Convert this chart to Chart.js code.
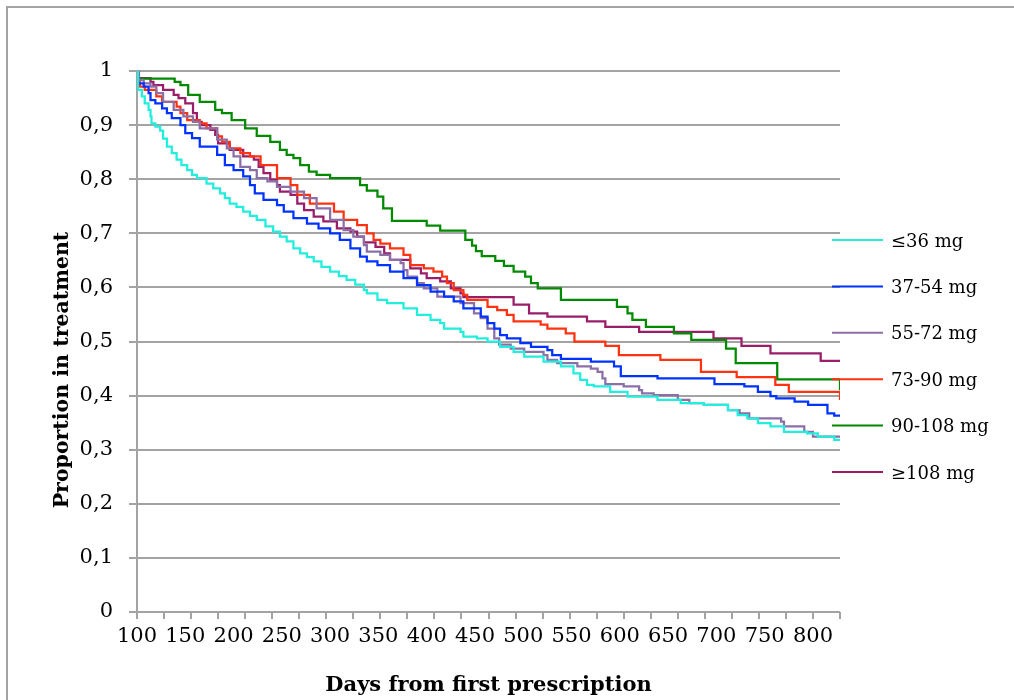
<!DOCTYPE html>
<html>
<head>
<meta charset="utf-8">
<script src="https://cdn.jsdelivr.net/npm/chart.js@4.4.1/dist/chart.umd.min.js"></script>
<style>
  html, body { margin: 0; padding: 0; background: #fff; overflow: hidden; }
  #wrap { position: relative; width: 1014px; height: 700px; }
  #frame { position: absolute; left: 6px; top: 6px; width: 1100px; height: 800px;
           border-left: 2px solid #a3a3a3; border-top: 2px solid #a3a3a3; }
  canvas { position: absolute; left: 0; top: 0; }
</style>
</head>
<body>
<div id="wrap"><div id="frame"></div><canvas id="chart" width="1014" height="700"></canvas></div>
<script>
/* Proportion in treatment by dose group (stepped survival-style curves) */

const groups = ["≤36 mg", "37-54 mg", "55-72 mg", "73-90 mg", "90-108 mg", "≥108 mg"];

// days / proportion pairs, value holds from that day on
const days36 = [100, 101, 105, 108, 112, 114, 115, 119, 124, 127, 131, 136, 141, 146, 152, 157, 162, 172, 179, 186,
  191, 196, 203, 210, 217, 224, 233, 241, 248, 255, 262, 269, 276, 283, 291, 300, 309, 317, 326, 335,
  338, 349, 359, 376, 390, 404, 414, 418, 435, 438, 452, 463, 476, 490, 501, 521, 539, 552, 559, 566,
  573, 590, 608, 639, 663, 687, 712, 722, 732, 743, 756, 770, 794, 805, 822, 828];
const prop36 = [1, 0.965, 0.953, 0.940, 0.928, 0.916, 0.903, 0.897, 0.890, 0.875, 0.860, 0.848, 0.836, 0.826, 0.817, 0.808, 0.802, 0.792, 0.783, 0.774,
  0.765, 0.755, 0.749, 0.740, 0.732, 0.725, 0.713, 0.703, 0.694, 0.685, 0.672, 0.663, 0.656, 0.648, 0.638, 0.629, 0.621, 0.614, 0.605, 0.595,
  0.589, 0.577, 0.571, 0.561, 0.549, 0.540, 0.534, 0.524, 0.518, 0.509, 0.506, 0.500, 0.490, 0.481, 0.472, 0.463, 0.454, 0.441, 0.429, 0.420,
  0.417, 0.407, 0.398, 0.392, 0.386, 0.383, 0.373, 0.364, 0.358, 0.349, 0.343, 0.333, 0.330, 0.324, 0.318, 0.318];

const days54 = [100, 101, 107, 112, 114, 119, 126, 131, 136, 145, 150, 157, 165, 183, 191, 200, 210, 217, 222, 231,
  245, 252, 262, 276, 288, 300, 310, 321, 331, 338, 349, 362, 376, 390, 404, 418, 428, 438, 456, 463,
  470, 476, 483, 497, 508, 525, 530, 539, 570, 594, 601, 639, 698, 729, 743, 756, 762, 781, 795, 815, 822, 828];
const prop54 = [1, 0.977, 0.971, 0.959, 0.946, 0.940, 0.931, 0.922, 0.913, 0.900, 0.885, 0.876, 0.860, 0.845, 0.826, 0.817, 0.805, 0.789, 0.774, 0.762,
  0.752, 0.740, 0.728, 0.718, 0.709, 0.700, 0.688, 0.672, 0.657, 0.648, 0.641, 0.629, 0.617, 0.604, 0.592, 0.583, 0.574, 0.561, 0.546, 0.534,
  0.524, 0.512, 0.506, 0.497, 0.490, 0.484, 0.475, 0.468, 0.463, 0.454, 0.436, 0.432, 0.421, 0.417, 0.407, 0.399, 0.395, 0.389, 0.383, 0.367, 0.363, 0.363];

const days72 = [100, 102, 107, 114, 120, 127, 138, 148, 158, 165, 183, 193, 200, 207, 217, 224, 235, 245, 259, 273,
  286, 300, 314, 324, 335, 338, 352, 362, 373, 376, 380, 390, 397, 411, 435, 449, 456, 463, 470, 475,
  487, 501, 521, 525, 535, 556, 570, 577, 582, 585, 604, 620, 623, 635, 660, 672, 687, 712, 724, 734,
  767, 770, 791, 800, 828];
const prop72 = [1, 0.983, 0.977, 0.971, 0.959, 0.943, 0.928, 0.916, 0.906, 0.894, 0.873, 0.857, 0.842, 0.823, 0.817, 0.802, 0.796, 0.786, 0.777, 0.765,
  0.746, 0.725, 0.706, 0.694, 0.678, 0.666, 0.660, 0.651, 0.645, 0.632, 0.620, 0.608, 0.598, 0.583, 0.571, 0.552, 0.543, 0.524, 0.506, 0.494,
  0.487, 0.481, 0.475, 0.466, 0.460, 0.454, 0.450, 0.444, 0.432, 0.421, 0.417, 0.410, 0.404, 0.401, 0.392, 0.386, 0.383, 0.373, 0.367, 0.358,
  0.352, 0.343, 0.333, 0.324, 0.324];

const days90 = [100, 101, 103, 108, 120, 126, 141, 145, 152, 165, 172, 183, 188, 196, 207, 217, 228, 245, 259, 266,
  279, 304, 314, 328, 338, 345, 352, 362, 376, 383, 397, 407, 416, 421, 428, 438, 442, 463, 473, 483,
  490, 518, 525, 544, 553, 585, 599, 642, 684, 721, 761, 775, 828];
const prop90 = [1, 0.980, 0.971, 0.965, 0.953, 0.943, 0.934, 0.922, 0.909, 0.903, 0.894, 0.879, 0.869, 0.857, 0.848, 0.842, 0.826, 0.802, 0.789, 0.771,
  0.755, 0.740, 0.725, 0.715, 0.700, 0.688, 0.681, 0.672, 0.660, 0.641, 0.635, 0.629, 0.620, 0.608, 0.595, 0.586, 0.577, 0.564, 0.558, 0.549,
  0.537, 0.531, 0.524, 0.515, 0.500, 0.492, 0.475, 0.466, 0.444, 0.434, 0.420, 0.407, 0.392];

const days108 = [100, 101, 139, 145, 153, 165, 181, 188, 198, 212, 224, 238, 248, 255, 262, 269, 278, 286, 300, 331,
  338, 349, 355, 364, 400, 414, 440, 447, 451, 457, 471, 480, 490, 502, 508, 515, 539, 597, 608, 613,
  627, 656, 674, 710, 720, 763, 828];
const prop108 = [1, 0.986, 0.980, 0.974, 0.956, 0.943, 0.928, 0.922, 0.909, 0.894, 0.880, 0.869, 0.854, 0.845, 0.839, 0.826, 0.814, 0.808, 0.802, 0.789,
  0.779, 0.768, 0.746, 0.723, 0.714, 0.705, 0.688, 0.677, 0.667, 0.658, 0.649, 0.640, 0.629, 0.620, 0.608, 0.598, 0.577, 0.564, 0.552, 0.540,
  0.527, 0.515, 0.503, 0.487, 0.460, 0.430, 0.410];

const daysOver = [100, 102, 114, 117, 127, 138, 143, 150, 158, 162, 167, 176, 181, 184, 196, 210, 221, 226, 231, 238,
  245, 248, 259, 266, 273, 283, 293, 307, 321, 328, 335, 347, 356, 362, 383, 394, 400, 414, 425, 435,
  438, 490, 506, 525, 566, 585, 620, 697, 726, 756, 808, 828];
const propOver = [1, 0.987, 0.980, 0.974, 0.965, 0.956, 0.950, 0.940, 0.922, 0.906, 0.900, 0.891, 0.882, 0.866, 0.854, 0.842, 0.836, 0.823, 0.811, 0.799,
  0.789, 0.777, 0.771, 0.755, 0.743, 0.731, 0.722, 0.709, 0.703, 0.694, 0.683, 0.675, 0.663, 0.651, 0.635, 0.626, 0.617, 0.611, 0.598, 0.589,
  0.582, 0.568, 0.552, 0.546, 0.537, 0.527, 0.518, 0.506, 0.492, 0.478, 0.464, 0.464];

const xTickLabels = [100, 150, 200, 250, 300, 350, 400, 450, 500, 550, 600, 650, 700, 750, 800];
const xTickMarks = [100, 128, 156, 184, 212, 240, 268, 296, 324, 352, 380, 408, 436, 464, 492, 520, 548, 576,
  604, 632, 660, 688, 716, 744, 772, 800, 828];
const yTickValues = [0, 0.1, 0.2, 0.3, 0.4, 0.5, 0.6, 0.7, 0.8, 0.9, 1];
const yTickLabels = ["0", "0,1", "0,2", "0,3", "0,4", "0,5", "0,6", "0,7", "0,8", "0,9", "1"];

const series = [[days36, prop36], [days54, prop54], [days72, prop72], [days90, prop90], [days108, prop108], [daysOver, propOver]];
const colors = ["#22eedd", "#0033ff", "#8b70a8", "#ff3311", "#008a00", "#9a1d6a"];
const GRID = "#a3a3a3";
const FONT = "DejaVu Serif";

const datasets = series.map(([d, p], i) => ({
  label: groups[i],
  data: d.map((x, k) => ({ x, y: p[k] })),
  borderColor: colors[i],
  backgroundColor: colors[i],
  borderWidth: 2.25,
  pointRadius: 0,
  stepped: true,
  fill: false,
  xAxisID: "x",
  yAxisID: "y",
}));

// y title + legend drawn by hand (legend sits half over the plot edge)
const overlay = {
  id: "overlay",
  afterDraw(chart) {
    const { ctx, chartArea } = chart;
    ctx.save();
    ctx.fillStyle = "#000";
    ctx.font = `bold 20.5px "${FONT}"`;
    ctx.textAlign = "center";
    ctx.textBaseline = "middle";
    ctx.translate(63, 370);
    ctx.rotate(-Math.PI / 2);
    ctx.fillText("Proportion in treatment", 0, 0);
    ctx.restore();

    ctx.save();
    ctx.font = `18px "${FONT}"`;
    ctx.textAlign = "left";
    ctx.textBaseline = "middle";
    groups.forEach((g, i) => {
      const y = 240 + i * 46.4;
      ctx.strokeStyle = colors[i];
      ctx.lineWidth = 2;
      ctx.beginPath();
      ctx.moveTo(chartArea.right - 8, y);
      ctx.lineTo(chartArea.right + 43, y);
      ctx.stroke();
      ctx.fillStyle = "#000";
      ctx.fillText(g, chartArea.right + 51, y + 2);
    });
    ctx.restore();
  },
};

new Chart(document.getElementById("chart"), {
  type: "line",
  data: { datasets },
  options: {
    responsive: false,
    animation: false,
    devicePixelRatio: 1,
    layout: { padding: { top: 71, right: 174, bottom: 0, left: 0 } },
    plugins: { legend: { display: false }, tooltip: { enabled: false } },
    scales: {
      x: {
        type: "linear", position: "bottom", weight: 0, min: 100, max: 828,
        afterBuildTicks: (s) => { s.ticks = xTickMarks.map((v) => ({ value: v })); },
        afterFit: (s) => { s.height = 8; },
        ticks: { display: false },
        grid: { drawOnChartArea: false, drawTicks: true, tickLength: 7, color: GRID, lineWidth: 2 },
        border: { display: false },
      },
      x2: {
        type: "linear", position: "bottom", weight: 1, min: 100, max: 828,
        afterBuildTicks: (s) => { s.ticks = xTickLabels.map((v) => ({ value: v })); },
        afterFit: (s) => { s.height = 80; },
        ticks: { font: { family: FONT, size: 21 }, color: "#000", padding: -4, maxRotation: 0, autoSkip: false },
        grid: { display: false },
        border: { display: false },
        title: {
          display: true, text: "Days from first prescription", color: "#000",
          font: { family: FONT, size: 21, weight: "bold" }, padding: { top: 0, bottom: 2 },
        },
      },
      y: {
        min: 0, max: 1,
        afterBuildTicks: (s) => { s.ticks = yTickValues.map((v) => ({ value: v })); },
        afterFit: (s) => { s.width = 137; },
        ticks: { callback: (v, i) => yTickLabels[i], font: { family: FONT, size: 21 }, color: "#000", padding: 16 },
        grid: { color: GRID, lineWidth: 2, tickLength: 8 },
        border: { display: true, color: GRID, width: 2 },
      },
    },
  },
  plugins: [overlay],
});
</script>
</body>
</html>
